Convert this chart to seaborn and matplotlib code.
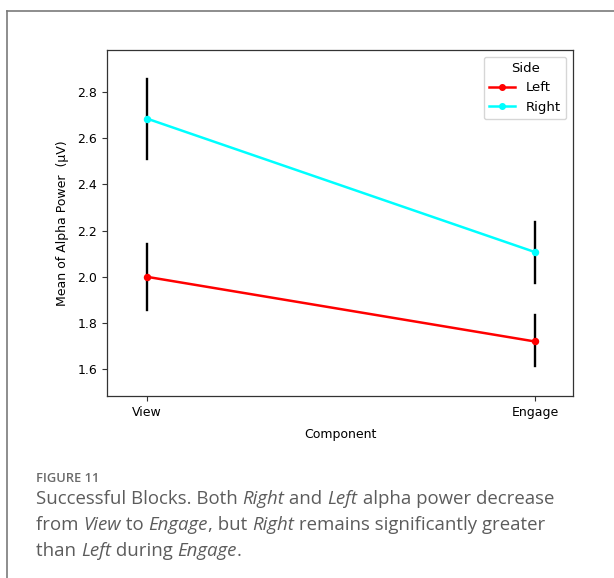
import matplotlib
matplotlib.use("Agg")
import matplotlib.pyplot as plt
import seaborn as sns
import pandas as pd
import numpy as np
from matplotlib.lines import Line2D

# ---- data ----
components = ["View", "Engage"]
sides = ["Left", "Right"]
left_mean = [2.00, 1.72]
left_lo = [1.855, 1.612]
left_hi = [2.141, 1.835]
right_mean = [2.685, 2.107]
right_lo = [2.511, 1.975]
right_hi = [2.855, 2.238]
y_ticks = [1.6, 1.8, 2.0, 2.2, 2.4, 2.6, 2.8]

rows = []
for side, m, lo, hi in [("Left", left_mean, left_lo, left_hi),
                        ("Right", right_mean, right_lo, right_hi)]:
    for i, c in enumerate(components):
        for v in (lo[i], m[i], hi[i]):
            rows.append({"Component": c, "Side": side, "value": v})
df = pd.DataFrame(rows)

W, H = 614, 578
fig = plt.figure(figsize=(W / 100, H / 100), dpi=100)
fig.patch.set_facecolor("white")

# outer frame
fig.add_artist(Line2D([7 / W, 7 / W], [0, 1 - 11 / H], transform=fig.transFigure,
                      color="#7a7a7a", lw=1.2))
fig.add_artist(Line2D([7 / W, 1], [1 - 11 / H, 1 - 11 / H], transform=fig.transFigure,
                      color="#7a7a7a", lw=1.2))

ax = fig.add_axes([107 / W, 1 - 396 / H, (573 - 107) / W, (396 - 50) / H])
palette = {"Left": "#ff0000", "Right": "#00ffff"}
sns.pointplot(data=df, x="Component", y="value", hue="Side", order=components,
              hue_order=sides, palette=palette, estimator="median",
              errorbar=lambda x: (x.min(), x.max()),
              err_kws={"color": "black", "linewidth": 1.7},
              markers="o", markersize=4, linewidth=1.8, ax=ax)

# points/lines above error bars
for ln in ax.lines:
    c = matplotlib.colors.to_hex(ln.get_color())
    if c == "#000000":
        ln.set_zorder(2)
    else:
        ln.set_zorder(3)

ax.set_xlim(-0.103, 1.098)
ax.set_ylim(1.484, 2.982)
ax.set_yticks(y_ticks)
ax.set_yticklabels([f"{t:.1f}" for t in y_ticks])
ax.tick_params(labelsize=9, length=3.5, width=0.8, color="#333333")
for s in ax.spines.values():
    s.set_linewidth(0.9)
    s.set_color("#333333")
ax.set_xlabel("Component", fontsize=9, labelpad=7)
ax.set_ylabel("Mean of Alpha Power  (μV)", fontsize=9, labelpad=6)

handles = [Line2D([], [], color=palette[s], marker="o", markersize=4, lw=1.8) for s in sides]
leg = ax.legend(handles, sides, title="Side", loc="upper right", fontsize=9.5,
                title_fontsize=9.5, frameon=True, handlelength=2.0)

# ---- caption ----
cap_color = "#5c5c5c"
fig.text(36 / W, 1 - 482 / H, "FIGURE 11", fontsize=9.3, color="#6a6a6a",
         family="Open Sans", weight="semibold", va="baseline")

lines = [
    [("Successful Blocks. Both ", False), ("Right", True), (" and ", False), ("Left", True),
     (" alpha power decrease", False)],
    [("from ", False), ("View", True), (" to ", False), ("Engage", True), (", but ", False),
     ("Right", True), (" remains significantly greater", False)],
    [("than ", False), ("Left", True), (" during ", False), ("Engage", True), (".", False)],
]
baselines = [504, 530, 556]
fig.canvas.draw()
renderer = fig.canvas.get_renderer()
for parts, yb in zip(lines, baselines):
    x = 36.0
    for txt, it in parts:
        t = fig.text(x / W, 1 - yb / H, txt, fontsize=13.45, color=cap_color,
                     family="Open Sans", style="italic" if it else "normal",
                     va="baseline", ha="left")
        bb = t.get_window_extent(renderer=renderer)
        x += bb.width

fig.savefig("out.png", dpi=100)
